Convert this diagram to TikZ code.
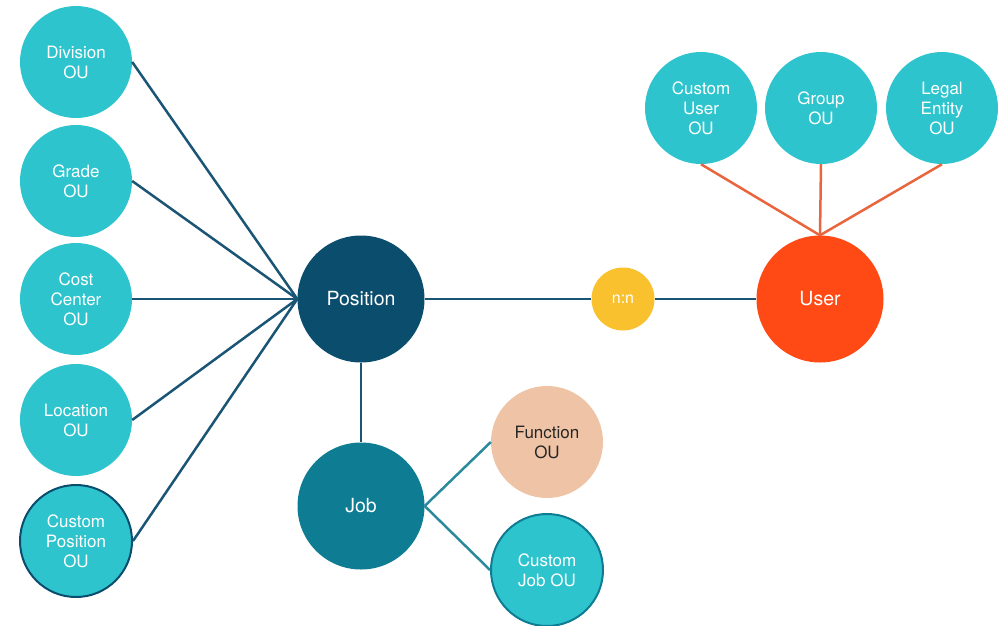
\documentclass[tikz,border=0pt]{standalone}
\usepackage{fontspec}
\setmainfont{TeX Gyre Heros}

\definecolor{ouTeal}{HTML}{2EC4CE}
\definecolor{posNavy}{HTML}{0B4D6D}
\definecolor{jobTeal}{HTML}{0E7C92}
\definecolor{fnPeach}{HTML}{EFC3A5}
\definecolor{nnYellow}{HTML}{F8C12D}
\definecolor{userRed}{HTML}{FF4A16}
\definecolor{linkBlue}{HTML}{1B5576}
\definecolor{linkOrange}{HTML}{E8653E}
\definecolor{linkTeal}{HTML}{2A8A9B}

\begin{document}
\begin{tikzpicture}[x=1pt, y=-1pt,
  ou/.style={circle, fill=ouTeal, text=white, minimum size=112pt, inner sep=0pt,
    align=center, font=\fontsize{17}{20}\selectfont},
  hub/.style={circle, text=white, minimum size=127pt, inner sep=0pt,
    font=\fontsize{19.5}{22}\selectfont},
  link/.style={line width=2.5pt}]
  \useasboundingbox (0,0) rectangle (1005,625);
  % ---------------------------------------------------------------- the hubs
  \node[hub, fill=posNavy] (pos) at (361,299) {Position};
  \node[hub, fill=jobTeal] (job) at (361,506) {Job};
  \node[hub, fill=userRed] (user) at (820,299) {User};
  \node[circle, fill=nnYellow, text=white, minimum size=63pt, inner sep=0pt,
    font=\fontsize{16}{18}\selectfont] (nn) at (623,299) {n:n};
  % ---------------------------------------------------------------- position OUs, left column
  \foreach \n/\y/\t in {div/62/{Division\\OU}, grade/181/{Grade\\OU},
      cost/299/{Cost\\Center\\OU}, loc/420/{Location\\OU}} {
    \node[ou] (\n) at (76,\y) {\t};
    \draw[link, linkBlue] (\n.east) -- (pos.west);
  }
  \node[ou, draw=posNavy, line width=2pt] (cpos) at (76,541) {Custom\\Position\\OU};
  \draw[link, linkBlue] (cpos.east) -- (pos.west);
  % ---------------------------------------------------------------- job OUs
  \node[ou, fill=fnPeach, text=black!85] (fn) at (547,442) {Function\\OU};
  \node[ou, draw=jobTeal, line width=2pt] (cjob) at (547,570) {Custom\\Job OU};
  \draw[link, linkTeal] (job.east) -- (fn.west);
  \draw[link, linkTeal] (job.east) -- (cjob.west);
  \draw[link, linkBlue] (pos) -- (job);
  % ---------------------------------------------------------------- user OUs, top row
  \foreach \n/\x/\t in {cuser/701/{Custom\\User\\OU}, group/821/{Group\\OU},
      legal/942/{Legal\\Entity\\OU}} {
    \node[ou] (\n) at (\x,108) {\t};
    \draw[link, linkOrange] (\n.south) -- (user.north);
  }
  % position -- n:n -- user
  \draw[link, linkBlue] (pos) -- (nn) -- (user);
\end{tikzpicture}
\end{document}
